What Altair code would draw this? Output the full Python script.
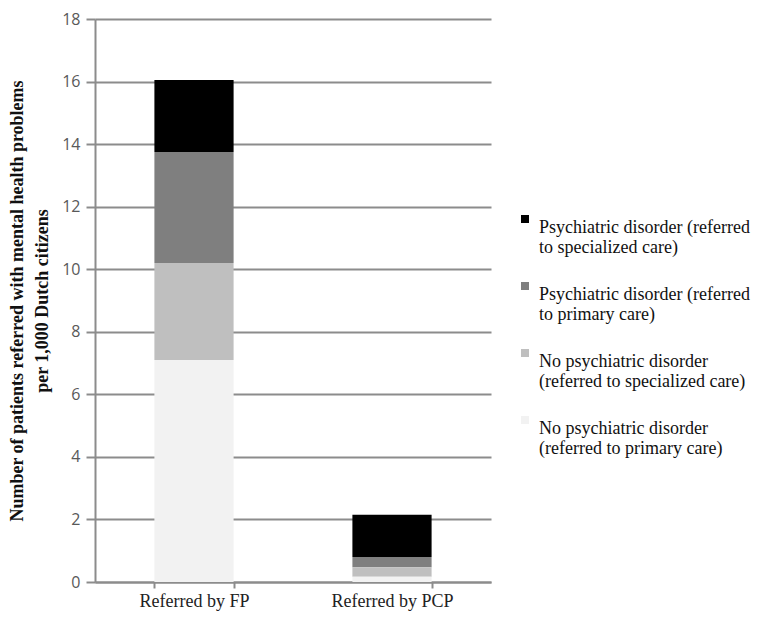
import altair as alt
import pandas as pd

groups = ["Referred by FP", "Referred by PCP"]
categories = [
    "Psychiatric disorder (referred|to specialized care)",
    "Psychiatric disorder (referred|to primary care)",
    "No psychiatric disorder|(referred to specialized care)",
    "No psychiatric disorder|(referred to primary care)",
]
colors = ["#000000", "#7f7f7f", "#bfbfbf", "#f2f2f2"]
stack_rank = [3, 2, 1, 0]
fp_values = [2.3, 3.55, 3.1, 7.1]
pcp_values = [1.35, 0.33, 0.3, 0.17]

rows = []
for g, vals in zip(groups, [fp_values, pcp_values]):
    for c, v, r in zip(categories, vals, stack_rank):
        rows.append({"group": g, "category": c, "value": v, "rank": r})
df = pd.DataFrame(rows)

chart = alt.Chart(df).mark_bar().encode(
    x=alt.X("group:N", sort=groups, title=None,
            scale=alt.Scale(paddingInner=0.6, paddingOuter=0.3),
            axis=alt.Axis(labelAngle=0, labelFont="Liberation Serif", labelFontSize=18,
                          labelColor="#222222", labelPadding=4, tickBand="extent",
                          tickSize=6, tickColor="#8c8c8c", tickWidth=2,
                          domainColor="#8c8c8c", domainWidth=2)),
    y=alt.Y("value:Q", stack="zero",
            scale=alt.Scale(domain=[0, 18]),
            axis=alt.Axis(values=list(range(0, 19, 2)), format="d",
                          title=["Number of patients referred with mental health problems",
                                 "per 1,000 Dutch citizens"],
                          titleFont="Liberation Serif", titleFontSize=18, titleFontWeight="bold",
                          titleColor="#111111", titlePadding=10, titleLineHeight=25,
                          labelFont="Open Sans", labelFontSize=16, labelColor="#595959",
                          labelPadding=6, tickSize=9, tickColor="#8c8c8c", tickWidth=2,
                          domainColor="#8c8c8c", domainWidth=2,
                          gridColor="#8c8c8c", gridWidth=2)),
    color=alt.Color("category:N", sort=categories,
                    scale=alt.Scale(domain=categories, range=colors),
                    legend=alt.Legend(title=None, orient="none", legendX=421, legendY=191,
                                      labelExpr="split(datum.label, '|')",
                                      labelFont="Liberation Serif", labelFontSize=18,
                                      labelColor="#111111", symbolType="square",
                                      symbolSize=64, symbolStrokeWidth=0,
                                      rowPadding=20, labelLimit=400,
                                      labelBaseline="top", labelOffset=5)),
    order=alt.Order("rank:Q", sort="ascending"),
).properties(
    width=396, height=563,
    autosize=alt.AutoSizeParams(type="none"),
    padding={"left": 87, "top": 11, "right": 266, "bottom": 34},
).configure_view(stroke=None)

chart.save("out.html", embed_options={"renderer": "svg", "actions": False})
